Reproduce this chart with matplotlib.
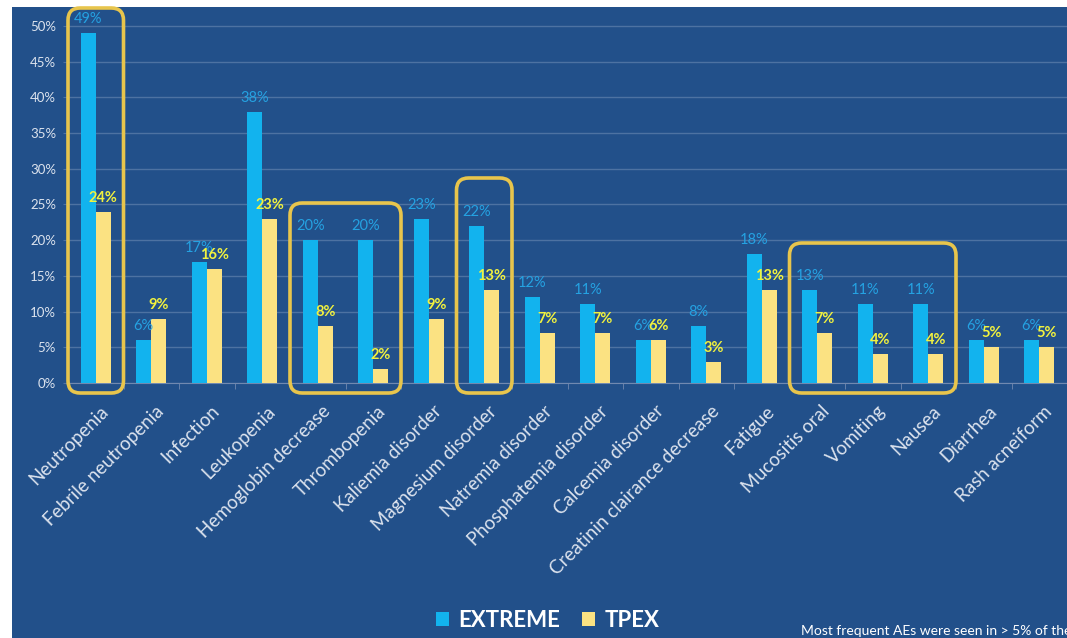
import matplotlib
matplotlib.use('Agg')
import matplotlib.pyplot as plt
from matplotlib.patches import Rectangle, FancyBboxPatch
from matplotlib.transforms import ScaledTranslation
import numpy as np

# ---------------- data ----------------
CATEGORIES = ['Neutropenia', 'Febrile neutropenia', 'Infection', 'Leukopenia',
              'Hemoglobin decrease', 'Thrombopenia', 'Kaliemia disorder',
              'Magnesium disorder', 'Natremia disorder', 'Phosphatemia disorder',
              'Calcemia disorder', 'Creatinin clairance decrease', 'Fatigue',
              'Mucositis oral', 'Vomiting', 'Nausea', 'Diarrhea', 'Rash acneiform']
EXTREME = [49, 6, 17, 38, 20, 20, 23, 22, 12, 11, 6, 8, 18, 13, 11, 11, 6, 6]
TPEX = [24, 9, 16, 23, 8, 2, 9, 13, 7, 7, 6, 3, 13, 7, 4, 4, 5, 5]
SERIES = ['EXTREME', 'TPEX']
Y_TICKS = [0, 5, 10, 15, 20, 25, 30, 35, 40, 45, 50]

# highlighted groups (first / last category index, top of frame in %)
HL_FIRST = [0, 4, 7, 13]
HL_LAST = [0, 5, 7, 15]
HL_TOP = [52.5, 25.2, 28.7, 19.6]

FOOTNOTE = 'Most frequent AEs were seen in > 5% of the'

# ---------------- style ----------------
BG = '#22508A'
GRID = '#4D72A2'
BLUE = '#12B3EE'
YELLOW = '#FBE282'
BLUE_TXT = '#25A2E2'
YELLOW_TXT = '#F2F23E'
FRAME = '#E8C54C'
TXT = '#DCE3EE'
FONT = 'Lato'

W, H = 1067, 638
fig = plt.figure(figsize=(W / 100, H / 100), dpi=100)
fig.patch.set_facecolor('white')
fig.add_artist(Rectangle((12 / W, 0), 1, 1 - 7 / H, transform=fig.transFigure,
                         facecolor=BG, edgecolor='none', zorder=0))

ax = fig.add_axes([68 / W, 1 - 383 / H, 1 - 68 / W, 375 / H])
ax.set_facecolor('none')

x = np.arange(len(CATEGORIES))
bw = 0.27
b1 = ax.bar(x - bw / 2, EXTREME, bw, color=BLUE, zorder=3, label=SERIES[0])
b2 = ax.bar(x + bw / 2, TPEX, bw, color=YELLOW, zorder=3, label=SERIES[1])

for rect, v in zip(b1, EXTREME):
    ax.annotate(f'{v}%', (rect.get_x() + rect.get_width() / 2, v),
                xytext=(0, 5), textcoords='offset points', ha='center', va='bottom',
                color=BLUE_TXT, fontsize=10.5, family=FONT, zorder=5)
for rect, v in zip(b2, TPEX):
    ax.annotate(f'{v}%', (rect.get_x() + rect.get_width() / 2, v),
                xytext=(0, 5), textcoords='offset points', ha='center', va='bottom',
                color=YELLOW_TXT, fontsize=10.5, fontweight='bold', family=FONT, zorder=5)

ax.set_xlim(-0.5, len(CATEGORIES) - 0.5)
ax.set_ylim(0, 52.5)
ax.set_yticks(Y_TICKS)
ax.set_yticklabels([f'{t}%' for t in Y_TICKS], color=TXT, fontsize=9.5, family=FONT)
ax.yaxis.grid(True, color=GRID, lw=1)
ax.set_axisbelow(True)
ax.tick_params(axis='y', length=3.6, color=GRID, pad=5)

ax.set_xticks(x)
ax.set_xticklabels(CATEGORIES, rotation=45, ha='right', va='top',
                   rotation_mode='anchor', color=TXT, fontsize=13.5, family=FONT)
ax.tick_params(axis='x', length=0, pad=14)
ax.set_xticks(np.arange(-0.5, len(CATEGORIES)), minor=True)
ax.tick_params(axis='x', which='minor', length=4, color='#7189B0')
off = ScaledTranslation(4 / 100, 0, fig.dpi_scale_trans)
for lab in ax.get_xticklabels():
    lab.set_transform(lab.get_transform() + off)

for s in ['top', 'right', 'left']:
    ax.spines[s].set_visible(False)
ax.spines['bottom'].set_color('#7189B0')

# yellow rounded frames around highlighted groups
for first, last, top in zip(HL_FIRST, HL_LAST, HL_TOP):
    bottom = -1.4
    ax.add_patch(FancyBboxPatch((first - 0.5, bottom), last - first + 1, top - bottom,
                                boxstyle='round,pad=0,rounding_size=0.22',
                                mutation_aspect=7.77, facecolor='none',
                                edgecolor=FRAME, lw=2.6, clip_on=False, zorder=6))

leg = fig.legend(handles=[b1, b2], labels=SERIES, loc='center',
                 bbox_to_anchor=(0.513, 0.027), ncol=2, frameon=False,
                 handlelength=0.6, handleheight=0.6, handletextpad=0.4,
                 columnspacing=1.0, prop={'family': FONT, 'weight': 'bold', 'size': 16})
for t in leg.get_texts():
    t.set_color('white')

fig.text(801 / W, 1 - 631 / H, FOOTNOTE, color='white', fontsize=10,
         family=FONT, va='center', ha='left')

fig.savefig('out.png', dpi=100, facecolor=fig.get_facecolor())
